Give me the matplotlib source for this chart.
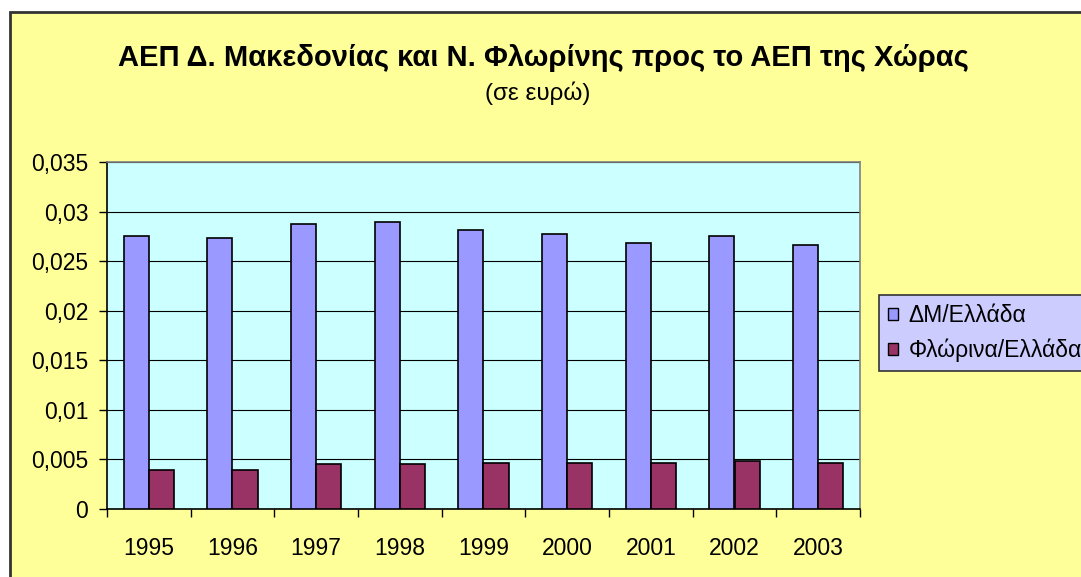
import numpy as np
import matplotlib
matplotlib.use("Agg")
import matplotlib.pyplot as plt
from matplotlib.patches import Rectangle, Patch
from matplotlib.ticker import FuncFormatter, FixedLocator

plt.rcParams['font.family'] = ['Liberation Sans', 'DejaVu Sans']

years = ['1995', '1996', '1997', '1998', '1999', '2000', '2001', '2002', '2003']
dm_ellada = [0.0275, 0.0273, 0.0287, 0.0289, 0.0281, 0.0277, 0.0268, 0.0275, 0.0266]
florina_ellada = [0.0039, 0.0039, 0.0045, 0.0045, 0.0046, 0.0046, 0.0046, 0.0048, 0.0046]
series_names = ['ΔΜ/Ελλάδα', 'Φλώρινα/Ελλάδα']

W, H = 1081, 577
fig = plt.figure(figsize=(W / 100, H / 100), dpi=100, facecolor='white')

# chart frame (cropped on the right and bottom in the original)
frame = Rectangle((10 / W, -0.05), 1.1, (H - 12) / H + 0.05, transform=fig.transFigure,
                  facecolor='#FFFF99', edgecolor='#333333', linewidth=2, zorder=-10)
fig.patches.append(frame)

ax = fig.add_axes([107 / W, 1 - 509 / H, (860 - 107) / W, (509 - 162) / H])
ax.set_facecolor('#CCFFFF')

x = np.arange(len(years))
bw = 0.3
ax.bar(x - bw / 2, dm_ellada, bw, color='#9999FF', edgecolor='black', linewidth=1.2, zorder=3)
ax.bar(x + bw / 2, florina_ellada, bw, color='#993366', edgecolor='black', linewidth=1.2, zorder=3)

ax.set_xlim(-0.5, len(years) - 0.5)
ax.set_ylim(0, 0.035)
ax.set_yticks(np.arange(0, 0.0351, 0.005))
ax.yaxis.set_major_formatter(FuncFormatter(lambda v, p: f"{round(v, 3):g}".replace('.', ',')))
ax.grid(axis='y', color='black', linewidth=0.8, zorder=1)

ax.set_xticks(x)
ax.set_xticklabels(years)
ax.xaxis.set_minor_locator(FixedLocator(np.arange(-0.5, len(years), 1.0)))
ax.tick_params(axis='x', which='major', length=0, pad=20, labelsize=16.5)
ax.tick_params(axis='x', which='minor', length=5.5, width=1, color='black', direction='out')
ax.tick_params(axis='y', length=5.5, width=1, color='black', direction='out', pad=8, labelsize=16.5)

for s in ['top', 'right']:
    ax.spines[s].set_color('#808080')
    ax.spines[s].set_linewidth(1.2)
for s in ['left', 'bottom']:
    ax.spines[s].set_color('black')
    ax.spines[s].set_linewidth(1.2)

fig.text(543 / W, 1 - 58 / H, 'ΑΕΠ Δ. Μακεδονίας και Ν. Φλωρίνης προς το ΑΕΠ της Χώρας',
         ha='center', va='center', fontsize=21, fontweight='bold')
fig.text(538 / W, 1 - 93 / H, '(σε ευρώ)', ha='center', va='center', fontsize=17.5)

handles = [Patch(facecolor='#9999FF', edgecolor='black'), Patch(facecolor='#993366', edgecolor='black')]
leg = fig.legend(handles, series_names, loc='upper left', bbox_to_anchor=(879 / W, 1 - 295 / H),
                 fontsize=16.5, frameon=True, fancybox=False, framealpha=1,
                 facecolor='#CCCCFF', edgecolor='#333333', handlelength=0.45, handleheight=0.45,
                 handletextpad=0.45, labelspacing=0.5, borderpad=0.4, borderaxespad=0)
leg.get_frame().set_linewidth(1.2)

fig.savefig('out.png', dpi=100, facecolor='white')
